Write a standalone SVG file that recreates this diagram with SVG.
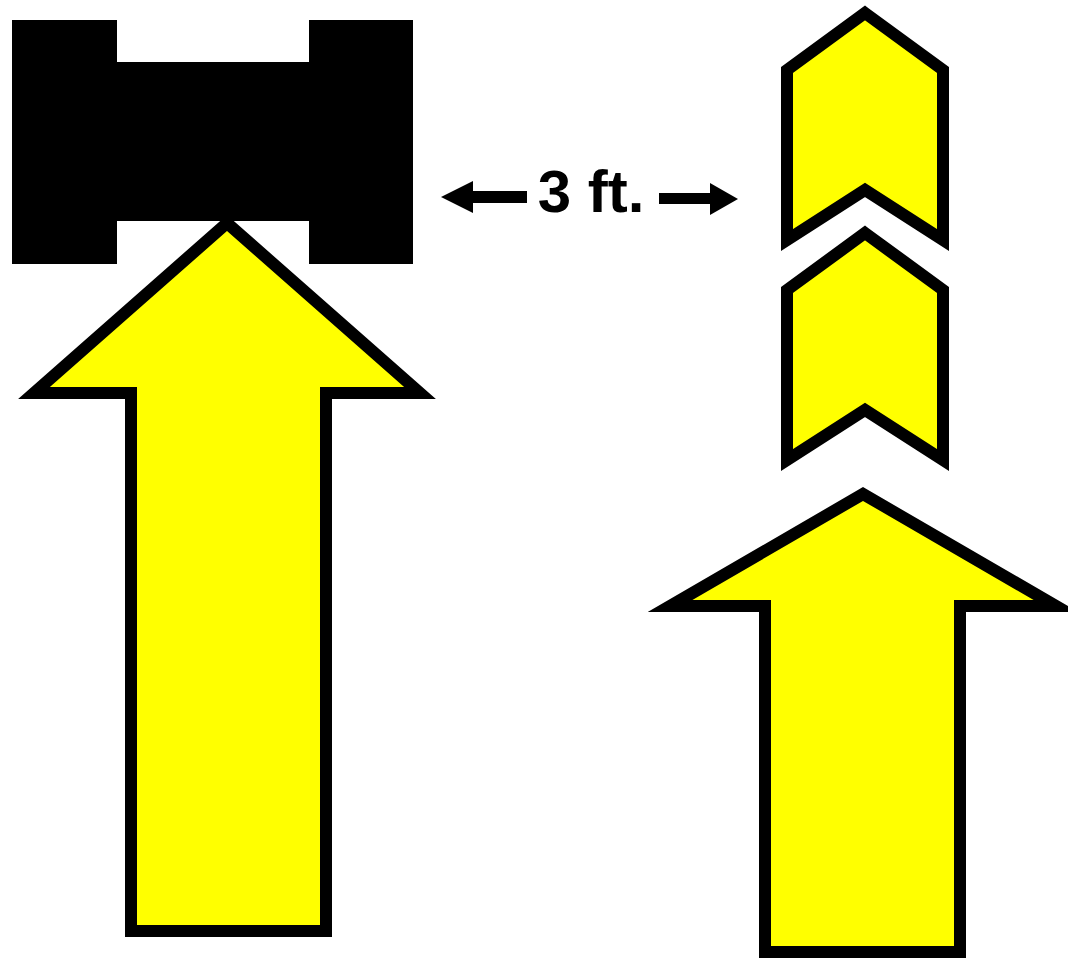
<svg xmlns="http://www.w3.org/2000/svg" width="1068" height="958" viewBox="0 0 1068 958">
<style>
.sign{fill:#FFFF00;stroke:#000;stroke-width:12;stroke-linejoin:miter;stroke-miterlimit:10}
.dim{fill:#000;stroke:none}
.lbl{font-family:"Liberation Sans",Arial,sans-serif;font-weight:bold;font-size:60px;fill:#000}
</style>
<rect width="1068" height="958" fill="#fff"/>
<g id="cart">
<path d="M12,20 H117 V62 H309 V20 H413 V264 H309 V221 H117 V264 H12 Z" fill="#000"/>
</g>
<g id="left-arrow">
<polygon class="sign" points="227,223 420,393 326,393 326,931 131,931 131,393 34,393"/>
</g>
<g id="chevron-top">
<polygon class="sign" points="865,13 943,70 943,240 865,190 787,240 787,70"/>
</g>
<g id="chevron-bottom">
<polygon class="sign" points="865,233 943,290 943,460 865,410 787,460 787,290"/>
</g>
<g id="right-arrow">
<polygon class="sign" points="863,494 1056,606 960,606 960,952 765,952 765,606 670,606"/>
</g>
<g id="connectors">
<polygon class="dim" points="441,197 473,181 473,191 527,191 527,203 473,203 473,213"/>
<polygon class="dim" points="738,199 710,183 710,193 659,193 659,204 710,204 710,215"/>
</g>
<g id="label">
<text class="lbl" x="591" y="212" text-anchor="middle">3 ft.</text>
</g>
</svg>
